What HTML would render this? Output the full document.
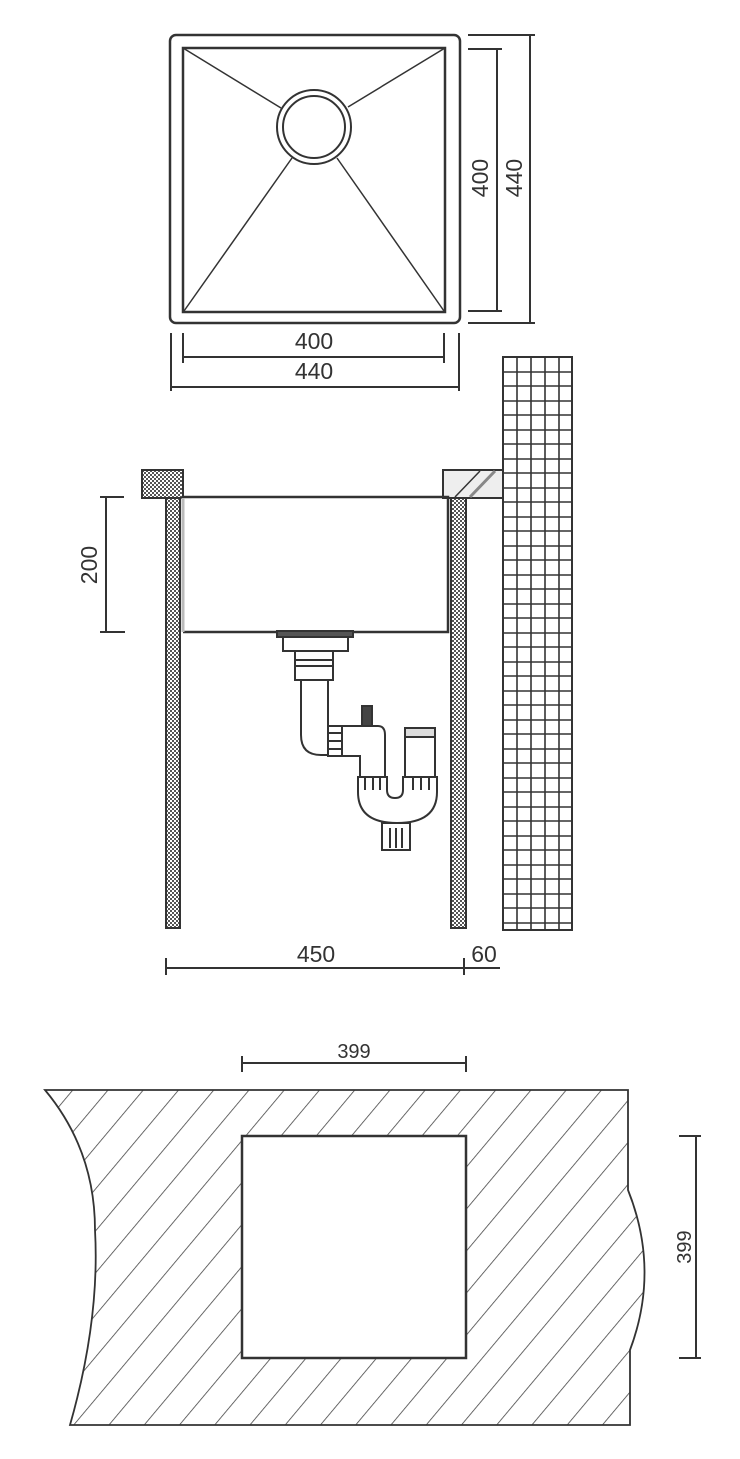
<!DOCTYPE html>
<html><head><meta charset="utf-8"><style>html,body{margin:0;padding:0;background:#fff}svg{display:block}</style></head>
<body>
<svg width="740" height="1459" viewBox="0 0 740 1459" xmlns="http://www.w3.org/2000/svg" font-family="Liberation Sans, sans-serif" fill="none" stroke="#333">
<defs>
<pattern id="hatch" patternUnits="userSpaceOnUse" width="27" height="27" patternTransform="rotate(40)">
<line x1="0" y1="0" x2="0" y2="27" stroke="#444" stroke-width="1.6"/>
</pattern>
<pattern id="dots" patternUnits="userSpaceOnUse" width="4" height="4">
<rect width="4" height="4" fill="#fff" stroke="none"/>
<rect width="2" height="2" fill="#555" stroke="none"/>
<rect x="2" y="2" width="2" height="2" fill="#555" stroke="none"/>
</pattern>
</defs>

<!-- TOP VIEW -->
<rect x="170" y="35" width="290" height="288" rx="6" stroke-width="2.5"/>
<rect x="183" y="48" width="262" height="264" stroke-width="2.5"/>
<circle cx="314" cy="127" r="37" stroke-width="2"/>
<circle cx="314" cy="127" r="31" stroke-width="2"/>
<line x1="183" y1="48" x2="281" y2="108" stroke-width="1.5"/>
<line x1="445" y1="48" x2="348" y2="107" stroke-width="1.5"/>
<line x1="184" y1="311" x2="292" y2="158" stroke-width="1.5"/>
<line x1="444" y1="311" x2="337" y2="158" stroke-width="1.5"/>
<g stroke-width="2">
<line x1="497" y1="48" x2="497" y2="312"/>
<line x1="468" y1="49" x2="502" y2="49"/><line x1="468" y1="311" x2="502" y2="311"/>
<line x1="530" y1="35" x2="530" y2="323"/>
<line x1="468" y1="35" x2="535" y2="35"/><line x1="468" y1="323" x2="535" y2="323"/>
<line x1="183" y1="357" x2="445" y2="357"/>
<line x1="183" y1="333" x2="183" y2="363"/><line x1="444" y1="333" x2="444" y2="363"/>
<line x1="170" y1="387" x2="460" y2="387"/>
<line x1="171" y1="333" x2="171" y2="391"/><line x1="459" y1="333" x2="459" y2="391"/>
</g>
<g fill="#333" stroke="none" font-size="23" text-anchor="middle">
<text x="314" y="349">400</text>
<text x="314" y="379">440</text>
<text transform="translate(488,178) rotate(-90)">400</text>
<text transform="translate(522,178) rotate(-90)">440</text>
</g>

<!-- SIDE VIEW -->
<rect x="503" y="357" width="69" height="573" fill="#fff" stroke-width="2"/>
<g stroke="#333" stroke-width="1.6">
<line x1="517" y1="357" x2="517" y2="930"/><line x1="531" y1="357" x2="531" y2="930"/>
<line x1="545" y1="357" x2="545" y2="930"/><line x1="559" y1="357" x2="559" y2="930"/>
</g>
<path d="M503 372H572M503 386H572M503 401H572M503 415H572M503 430H572M503 444H572M503 459H572M503 473H572M503 488H572M503 502H572M503 517H572M503 531H572M503 546H572M503 560H572M503 575H572M503 589H572M503 604H572M503 618H572M503 633H572M503 647H572M503 662H572M503 676H572M503 691H572M503 705H572M503 720H572M503 734H572M503 749H572M503 763H572M503 778H572M503 792H572M503 807H572M503 821H572M503 836H572M503 850H572M503 865H572M503 879H572M503 894H572M503 908H572M503 923H572" stroke-width="1.6"/>
<rect x="142" y="470" width="41" height="28" fill="url(#dots)" stroke-width="2"/>
<rect x="443" y="470" width="60" height="28" fill="#eee" stroke-width="2"/>
<line x1="455" y1="497" x2="480" y2="471" stroke-width="1.5"/>
<line x1="470" y1="497" x2="495" y2="471" stroke-width="3" stroke="#888"/>
<rect x="166" y="498" width="14" height="430" fill="url(#dots)" stroke-width="2"/>
<rect x="451" y="498" width="15" height="430" fill="url(#dots)" stroke-width="2"/>
<path d="M183 497H448V632H183" stroke-width="2.5"/>
<line x1="183" y1="498" x2="183" y2="632" stroke="#bbb" stroke-width="3"/>
<g stroke-width="2" fill="#fff">
<rect x="277" y="631" width="76" height="6" fill="#555"/>
<rect x="283" y="637" width="65" height="14"/>
<rect x="295" y="651" width="38" height="29"/>
<line x1="295" y1="660" x2="333" y2="660"/><line x1="295" y1="666" x2="333" y2="666"/>
<path d="M301 680V735Q301 755 321 755H342V726H328V680Z"/>
<rect x="328" y="726" width="14" height="30"/>
<line x1="328" y1="733" x2="342" y2="733"/><line x1="328" y1="741" x2="342" y2="741"/><line x1="328" y1="749" x2="342" y2="749"/>
<path d="M342 726H378Q385 726 385 735V777H360V756H342Z"/>
<rect x="362" y="706" width="10" height="20" fill="#444"/>
<rect x="405" y="728" width="30" height="50"/>
<rect x="405" y="728" width="30" height="9" fill="#ddd"/>
<path d="M358 777H387V790Q387 798 395 798Q403 798 403 790V777H437V792Q437 823 397 823Q358 823 358 792Z"/>
<line x1="365" y1="777" x2="365" y2="790"/><line x1="373" y1="777" x2="373" y2="790"/><line x1="380" y1="777" x2="380" y2="790"/>
<line x1="413" y1="777" x2="413" y2="790"/><line x1="421" y1="777" x2="421" y2="790"/><line x1="429" y1="777" x2="429" y2="790"/>
<rect x="382" y="823" width="28" height="27"/>
<line x1="390" y1="828" x2="390" y2="848"/><line x1="396" y1="828" x2="396" y2="848"/><line x1="402" y1="828" x2="402" y2="848"/>
</g>
<g stroke-width="2">
<line x1="106" y1="497" x2="106" y2="632"/>
<line x1="100" y1="497" x2="124" y2="497"/><line x1="100" y1="632" x2="125" y2="632"/>
<line x1="166" y1="968" x2="500" y2="968"/>
<line x1="166" y1="958" x2="166" y2="975"/><line x1="464" y1="958" x2="464" y2="975"/>
</g>
<g fill="#333" stroke="none" font-size="23" text-anchor="middle">
<text transform="translate(97,565) rotate(-90)">200</text>
<text x="316" y="962">450</text>
<text x="484" y="962">60</text>
</g>

<!-- CUTOUT VIEW -->
<path d="M45 1090H628V1190Q660 1270 630 1350V1425H70Q100 1320 95 1230Q95 1150 45 1090Z" fill="url(#hatch)" stroke-width="1.8"/>
<rect x="242" y="1136" width="224" height="222" fill="#fff" stroke-width="2.5"/>
<g stroke-width="2">
<line x1="242" y1="1063" x2="466" y2="1063"/>
<line x1="242" y1="1056" x2="242" y2="1072"/><line x1="466" y1="1056" x2="466" y2="1072"/>
<line x1="696" y1="1136" x2="696" y2="1358"/>
<line x1="679" y1="1136" x2="701" y2="1136"/><line x1="679" y1="1358" x2="701" y2="1358"/>
</g>
<g fill="#333" stroke="none" font-size="20" text-anchor="middle">
<text x="354" y="1058">399</text>
<text transform="translate(691,1247) rotate(-90)">399</text>
</g>
</svg>
</body></html>
